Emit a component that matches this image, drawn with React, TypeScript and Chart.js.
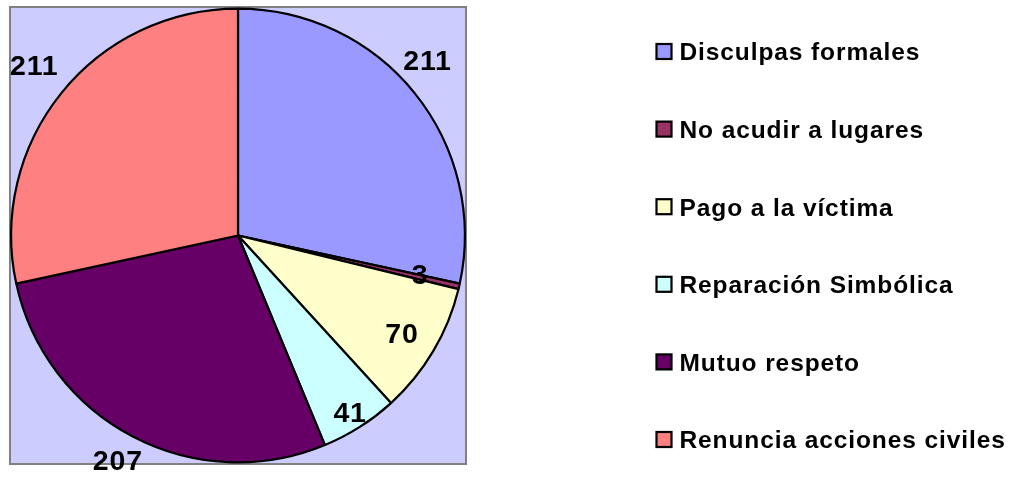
import React, { useEffect, useRef } from "react";
import { Chart, registerables } from "chart.js";

Chart.register(...registerables);

const categories = [
  "Disculpas formales",
  "No acudir a lugares",
  "Pago a la víctima",
  "Reparación Simbólica",
  "Mutuo respeto",
  "Renuncia acciones civiles",
];
const values = [211, 3, 70, 41, 207, 211];
const colors = ["#9999FF", "#993366", "#FFFFCC", "#CCFFFF", "#660066", "#FF8080"];

// label placement (fraction of radius, angle shift in degrees)
const labelRadius = [1.14, 0.82, 0.84, 0.92, 1.12, 1.17];
const labelAngleShift = [-4, -1, 0, 0, 0.6, 1];

const LABEL_SIZE = 28.5;
const LABEL_FONT = `bold ${LABEL_SIZE}px "Liberation Sans", Arial, sans-serif`;
const LEGEND_FONT = 'bold 24.5px "Liberation Sans", Arial, sans-serif';

const plotBackground = {
  id: "plotBackground",
  beforeDraw(chart: any) {
    const { ctx, chartArea } = chart;
    ctx.save();
    ctx.fillStyle = "#CCCCFF";
    ctx.fillRect(chartArea.left, chartArea.top, chartArea.right - chartArea.left, chartArea.bottom - chartArea.top);
    ctx.strokeStyle = "#808080";
    ctx.lineWidth = 2;
    ctx.strokeRect(chartArea.left, chartArea.top, chartArea.right - chartArea.left, chartArea.bottom - chartArea.top);
    ctx.restore();
  },
};

const valueLabels = {
  id: "valueLabels",
  afterDatasetsDraw(chart: any) {
    const { ctx } = chart;
    const meta = chart.getDatasetMeta(0);
    const data = chart.data.datasets[0].data as number[];
    ctx.save();
    ctx.font = LABEL_FONT;
    (ctx as any).letterSpacing = "0.8px";
    ctx.fillStyle = "#000000";
    ctx.textAlign = "center";
    ctx.textBaseline = "alphabetic";
    meta.data.forEach((arc: any, i: number) => {
      const p = arc.getProps(["x", "y", "startAngle", "endAngle", "outerRadius"], true);
      const mid = (p.startAngle + p.endAngle) / 2 + (labelAngleShift[i] * Math.PI) / 180;
      const r = p.outerRadius * labelRadius[i];
      const x = p.x + Math.cos(mid) * r;
      const y = p.y + Math.sin(mid) * r;
      ctx.fillText(String(data[i]), x, y + (0.716 * LABEL_SIZE) / 2);
    });
    ctx.restore();
  },
};

const sideLegend = {
  id: "sideLegend",
  afterDraw(chart: any, _args: any, opts: any) {
    const { ctx } = chart;
    const labels = chart.data.labels as string[];
    const bg = chart.data.datasets[0].backgroundColor as string[];
    ctx.save();
    ctx.font = LEGEND_FONT;
    (ctx as any).letterSpacing = "0.9px";
    ctx.textAlign = "left";
    ctx.textBaseline = "alphabetic";
    labels.forEach((lab, i) => {
      const cy = opts.top + i * opts.step;
      ctx.fillStyle = bg[i];
      ctx.fillRect(opts.x + 1, cy - 7.5, 15, 15);
      ctx.strokeStyle = "#000000";
      ctx.lineWidth = 2.2;
      ctx.strokeRect(opts.x + 1, cy - 7.5, 15, 15);
      ctx.fillStyle = "#000000";
      ctx.fillText(lab, opts.x + 24, cy + 8.8);
    });
    ctx.restore();
  },
};

export default function App() {
  const ref = useRef<HTMLCanvasElement>(null);
  useEffect(() => {
    document.body.style.margin = "0";
    if (!ref.current) return;
    const chart = new Chart(ref.current, {
      type: "pie",
      data: {
        labels: categories,
        datasets: [
          {
            data: values,
            backgroundColor: colors,
            borderColor: "#000000",
            borderWidth: 2.2,
          },
        ],
      },
      options: {
        responsive: false,
        animation: false,
        layout: { padding: { left: 10, top: 7, right: 552, bottom: 13 } },
        plugins: {
          legend: { display: false },
          tooltip: { enabled: false },
          sideLegend: { x: 655.5, top: 51.5, step: 77.6 },
        } as any,
      },
      plugins: [plotBackground, valueLabels, sideLegend],
    });
    return () => chart.destroy();
  }, []);
  return (
    <div style={{ width: 1018, height: 477, background: "#ffffff" }}>
      <canvas ref={ref} width={1018} height={477} style={{ display: "block" }} />
    </div>
  );
}
